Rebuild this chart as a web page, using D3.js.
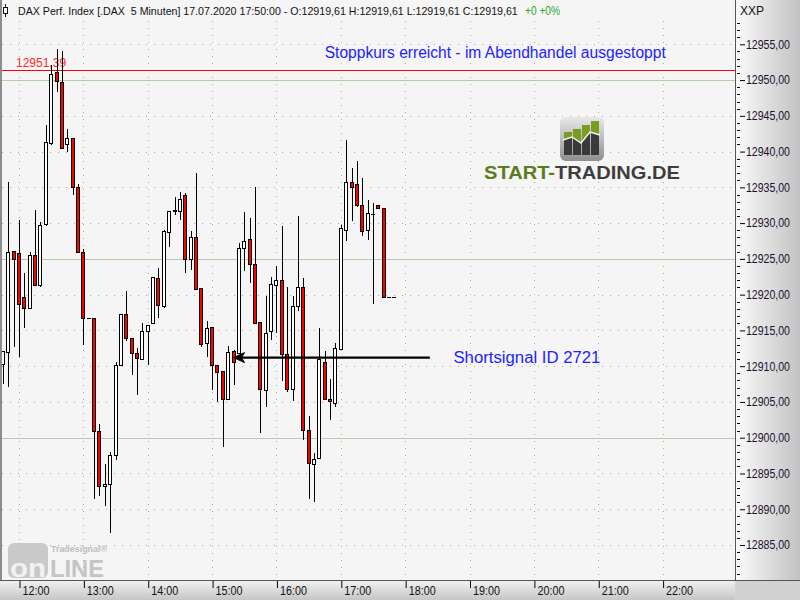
<!DOCTYPE html>
<html><head><meta charset="utf-8">
<script src="https://cdn.jsdelivr.net/npm/d3@7"></script>
<style>
body{margin:0;background:#fff}
svg{display:block;font-family:"Liberation Sans",Arial,sans-serif}
</style>
</head><body>
<svg id="c" width="800" height="600"></svg>
<script>
// ---------- data ----------
const firstBar = "2020-07-17 11:45";
const barMinutes = 5;
const opens  = [12910.3,12911.9,12926.0,12925.8,12919.6,12918.0,12925.5,12921.3,12929.8,12941.2,12951.0,12949.7,12941.0,12941.9,12935.0,12925.9,12916.7,12916.7,12900.9,12893.2,12893.5,12897.5,12910.1,12917.2,12913.8,12911.8,12911.0,12914.8,12915.9,12922.3,12918.3,12928.7,12931.6,12931.6,12933.9,12924.9,12928.0,12920.8,12913.2,12915.4,12910.1,12909.2,12905.4,12912.1,12911.8,12926.5,12927.7,12924.2,12916.1,12906.6,12914.8,12921.3,12922.0,12911.7,12906.7,12918.3,12921.0,12901.0,12896.2,12897.1,12910.5,12905.4,12904.8,12912.4,12929.0,12935.7,12935.4,12932.5,12929.0,12931.3,12932.4,12932.1,12919.61,12919.61];
const highs  = [12912.1,12935.8,12926.1,12930.5,12923.0,12925.9,12931.9,12930.1,12943.7,12952.1,12954.3,12954.0,12943.2,12941.9,12935.5,12926.4,12916.7,12916.7,12901.9,12896.3,12898.0,12910.6,12917.2,12920.5,12913.8,12912.5,12916.1,12915.7,12922.5,12923.7,12929.0,12931.6,12933.7,12934.4,12934.2,12928.9,12937.0,12920.8,12916.3,12915.4,12910.1,12909.2,12912.8,12912.3,12927.2,12931.6,12930.7,12935.1,12916.1,12919.8,12922.4,12924.0,12929.6,12921.0,12919.8,12931.0,12922.3,12903.0,12897.9,12915.3,12912.1,12908.2,12913.2,12929.7,12941.6,12937.7,12938.7,12936.3,12933.2,12932.8,12932.4,12932.1,12919.61,12919.61];
const lows   = [12907.5,12907.1,12912.7,12911.3,12915.4,12918.0,12921.3,12921.0,12929.6,12940.9,12948.4,12940.4,12940.0,12933.9,12925.9,12912.9,12916.7,12891.5,12891.8,12890.5,12886.7,12896.9,12910.1,12913.5,12908.8,12906.0,12910.8,12910.2,12915.9,12916.8,12918.1,12926.6,12931.1,12930.4,12923.0,12923.5,12920.7,12912.7,12911.3,12906.6,12905.0,12898.7,12905.3,12907.4,12911.8,12923.3,12921.6,12915.9,12900.6,12904.3,12913.7,12914.6,12907.9,12906.4,12905.1,12917.7,12899.7,12891.5,12891.0,12897.1,12905.4,12902.5,12904.3,12912.3,12927.5,12930.3,12932.2,12928.2,12927.6,12918.7,12932.1,12919.61,12919.61,12919.61];
const closes = [12912.0,12925.9,12924.9,12918.6,12918.0,12925.5,12921.3,12929.7,12941.3,12950.8,12949.8,12940.4,12941.9,12935.0,12925.9,12916.6,12916.7,12900.8,12893.2,12893.5,12897.5,12910.1,12917.2,12913.8,12911.8,12911.1,12914.8,12915.7,12922.4,12918.5,12928.8,12931.6,12931.7,12933.3,12924.9,12928.0,12920.7,12913.1,12915.2,12910.1,12909.1,12905.4,12911.9,12910.5,12926.5,12927.4,12924.2,12916.0,12906.7,12914.6,12921.35,12922.0,12911.7,12906.7,12918.4,12921.0,12901.0,12896.4,12896.9,12911.0,12905.4,12905.0,12912.5,12929.2,12935.7,12935.0,12932.4,12928.8,12931.4,12931.3,12932.1,12919.61,12919.61,12919.61];
const hourLabels = ["12:00","13:00","14:00","15:00","16:00","17:00","18:00","19:00","20:00","21:00","22:00"];
const greenHourLabels = ["17:00","22:00"];
const priceTicks = [12885,12890,12895,12900,12905,12910,12915,12920,12925,12930,12935,12940,12945,12950,12955];
const greenLevels = [12900,12925,12950];
const stopLevel = 12951.39;
const signalLevel = 12911.2;
const signalTip = "2020-07-17 15:20";
const signalTail = "2020-07-17 18:23";
const signalText = "Shortsignal ID 2721";
const signalTextTime = "2020-07-17 18:45";
const stopText = "Stoppkurs erreicht - im Abendhandel ausgestoppt";
const stopTextTime = "2020-07-17 16:45";
const stopTextLevel = 12953.1;
const titleText = "DAX Perf. Index [.DAX  5 Minuten] 17.07.2020 17:50:00";
const changeText = "+0 +0%";

// ---------- setup ----------
const W = 800, H = 600;
const plotL = 2, plotR = 735, plotT = 21, plotB = 580;
const parse = d3.timeParse("%Y-%m-%d %H:%M");
const day = "2020-07-17 ";
const t0 = parse(firstBar);
const bars = opens.map((o, i) => ({
  t: d3.timeMinute.offset(t0, i * barMinutes), o, h: highs[i], l: lows[i], c: closes[i]
}));
const x = d3.scaleTime().domain([parse(day + "12:00"), parse(day + "22:00")]).range([19, 662.6]);
const y = d3.scaleLinear().domain([12885, 12955]).range([545, 44.3]);
const fmt = v => d3.format(".2f")(v).replace(".", ",");

const svg = d3.select("#c");
const defs = svg.append("defs");
const g1 = defs.append("linearGradient").attr("id", "gr").attr("x1", 0).attr("x2", 1).attr("y1", 0).attr("y2", 0);
g1.append("stop").attr("offset", 0).attr("stop-color", "#fbfbfb");
g1.append("stop").attr("offset", 1).attr("stop-color", "#c2c2c2");
const g2 = defs.append("linearGradient").attr("id", "gb").attr("x1", 0).attr("x2", 0).attr("y1", 0).attr("y2", 1);
g2.append("stop").attr("offset", 0).attr("stop-color", "#f2f2f2");
g2.append("stop").attr("offset", 1).attr("stop-color", "#c6c6c6");
const g3 = defs.append("linearGradient").attr("id", "gi").attr("x1", 0).attr("x2", 0).attr("y1", 0).attr("y2", 1);
g3.append("stop").attr("offset", 0).attr("stop-color", "#e8e8e8");
g3.append("stop").attr("offset", 1).attr("stop-color", "#8e8e8e");
defs.append("clipPath").attr("id", "clip").append("rect")
  .attr("x", plotL).attr("y", plotT).attr("width", plotR - plotL).attr("height", plotB - plotT);

// backgrounds
svg.append("rect").attr("width", W).attr("height", H).attr("fill", "#f5f5f5");
svg.append("rect").attr("x", plotR).attr("y", 0).attr("width", W - plotR).attr("height", plotB).attr("fill", "url(#gr)");
svg.append("rect").attr("x", 0).attr("y", plotB).attr("width", plotR).attr("height", H - plotB).attr("fill", "url(#gb)");
svg.append("rect").attr("x", plotR).attr("y", plotB).attr("width", W - plotR).attr("height", H - plotB).attr("fill", "#d2d2d2");
svg.append("rect").attr("x", 0).attr("y", 0).attr("width", 2).attr("height", plotB).attr("fill", "#8c8c8c");

const plot = svg.append("g").attr("clip-path", "url(#clip)");

// grid
const px = v => Math.round(v) + 0.5;
plot.selectAll(".hg").data(priceTicks.filter(v => !greenLevels.includes(v))).join("line")
  .attr("x1", plotL).attr("x2", plotR).attr("y1", d => px(y(d))).attr("y2", d => px(y(d)))
  .attr("stroke", "#a8a8a8").attr("stroke-dasharray", "1,7");
plot.selectAll(".vg").data(hourLabels).join("line")
  .attr("x1", d => px(x(parse(day + d)))).attr("x2", d => px(x(parse(day + d))))
  .attr("y1", plotT).attr("y2", plotB)
  .attr("stroke", d => greenHourLabels.includes(d) ? "#8fbf86" : "#a8a8a8").attr("stroke-dasharray", "1,6");
plot.selectAll(".gg").data(greenLevels).join("line")
  .attr("x1", plotL).attr("x2", plotR).attr("y1", d => px(y(d))).attr("y2", d => px(y(d)))
  .attr("stroke", "#b1cdaa").attr("stroke-width", 1);

// stop line
plot.append("line").attr("x1", plotL).attr("x2", plotR)
  .attr("y1", px(y(stopLevel))).attr("y2", px(y(stopLevel))).attr("stroke", "#ff0000").attr("stroke-width", 1.2);
plot.append("text").attr("x", 16).attr("y", y(stopLevel) - 3.5).attr("font-size", 12).attr("fill", "#ff2a2a")
  .text(fmt(stopLevel));

// candles
const cg = plot.append("g").attr("shape-rendering", "crispEdges");
bars.forEach(b => {
  const r = Math.round(x(b.t));
  const cx = r + 0.5;
  if (b.h !== b.l) {
    cg.append("line").attr("x1", cx).attr("x2", cx).attr("y1", y(b.h)).attr("y2", y(b.l))
      .attr("stroke", "#000").attr("stroke-width", 1);
  }
  if (b.o === b.c) {
    cg.append("line").attr("x1", r - 2).attr("x2", r + 2).attr("y1", px(y(b.o))).attr("y2", px(y(b.o)))
      .attr("stroke", "#000").attr("stroke-width", 1.4);
  } else {
    const top = y(Math.max(b.o, b.c)), bot = y(Math.min(b.o, b.c));
    cg.append("rect").attr("x", r - 1.5).attr("y", top).attr("width", 3).attr("height", Math.max(bot - top, 1))
      .attr("fill", b.c > b.o ? "#ffffff" : "#ff0000").attr("stroke", "#000").attr("stroke-width", 1);
  }
});

// signal arrow
const ay = y(signalLevel);
const tipX = x(parse(signalTip)), tailX = x(parse(signalTail));
plot.append("line").attr("x1", tipX + 6).attr("x2", tailX).attr("y1", ay).attr("y2", ay)
  .attr("stroke", "#000").attr("stroke-width", 2.4);
plot.append("path")
  .attr("d", `M${tipX},${ay} L${tipX + 11},${ay - 5} L${tipX + 8},${ay} L${tipX + 11},${ay + 5} Z`)
  .attr("fill", "#000").attr("stroke", "#000").attr("stroke-width", 1);
svg.append("text").attr("x", x(parse(signalTextTime))).attr("y", ay + 5.5)
  .attr("font-size", 16).attr("fill", "#1e1eff")
  .attr("textLength", 147).attr("lengthAdjust", "spacingAndGlyphs").text(signalText);
svg.append("text").attr("x", x(parse(stopTextTime))).attr("y", y(stopTextLevel))
  .attr("font-size", 16).attr("fill", "#1e1eff")
  .attr("textLength", 341).attr("lengthAdjust", "spacingAndGlyphs").text(stopText);

// START-TRADING logo
const logo = svg.append("g");
logo.append("rect").attr("x", 560).attr("y", 117).attr("width", 44).attr("height", 44).attr("rx", 6)
  .attr("fill", "url(#gi)");
const barsX = [564, 573, 582, 591], barsTop = [132, 129, 125, 121];
const zigX = [563, 572, 581, 590, 600], zigY = [140, 137, 143, 132, 135];
const cp = defs.append("clipPath").attr("id", "zc");
barsX.forEach((bx, i) => {
  logo.append("rect").attr("x", bx).attr("y", barsTop[i]).attr("width", 8).attr("height", 155 - barsTop[i]).attr("fill", "#7a9c22");
  cp.append("rect").attr("x", bx).attr("y", barsTop[i]).attr("width", 8).attr("height", 155 - barsTop[i]);
});
const zigPts = zigX.map((zx, i) => `${zx},${zigY[i]}`);
logo.append("path").attr("d", `M${zigPts.join(" L")} L600,156 L563,156 Z`)
  .attr("fill", "#3a3a3a").attr("clip-path", "url(#zc)");
logo.append("polyline").attr("points", zigPts.join(" "))
  .attr("fill", "none").attr("stroke", "#f4f4f4").attr("stroke-width", 1.5);
const lt = logo.append("text").attr("x", 484).attr("y", 179).attr("font-size", 19).attr("font-weight", "bold")
  .attr("textLength", 196).attr("lengthAdjust", "spacingAndGlyphs");
lt.append("tspan").attr("fill", "#5b7d1c").text("START-");
lt.append("tspan").attr("fill", "#3d3d3d").text("TRADING.DE");

// Tradesignal online watermark
const wm = svg.append("g");
wm.append("rect").attr("x", 8).attr("y", 543).attr("width", 40).attr("height", 35).attr("rx", 6).attr("fill", "#c9c9c9");
wm.append("text").attr("x", 10).attr("y", 577).attr("font-size", 26).attr("font-weight", "bold")
  .attr("fill", "#f2f2f2").attr("textLength", 36).attr("lengthAdjust", "spacingAndGlyphs").text("on");
wm.append("text").attr("x", 50).attr("y", 577).attr("font-size", 24).attr("font-weight", "bold")
  .attr("fill", "#c4c4c4").attr("textLength", 54).attr("lengthAdjust", "spacingAndGlyphs").text("LINE");
wm.append("text").attr("x", 51).attr("y", 552).attr("font-size", 8.5).attr("font-weight", "bold")
  .attr("fill", "#bdbdbd").attr("textLength", 56).attr("lengthAdjust", "spacingAndGlyphs").text("Tradesignal\u00AE");

// right axis
const yAxis = d3.axisRight(y).tickValues(priceTicks).tickSize(5).tickPadding(1).tickFormat(fmt);
const ya = svg.append("g").attr("transform", `translate(${plotR + 5},0)`).call(yAxis);
ya.select(".domain").remove();
ya.selectAll("text").attr("font-size", 12).attr("fill", "#1a1030")
  .attr("textLength", 44).attr("lengthAdjust", "spacingAndGlyphs")
  .attr("font-family", "'Liberation Sans',Arial,sans-serif");
ya.selectAll("line").attr("stroke", "#000");
const minor = d3.range(12881, 12959).filter(v => v % 5 !== 0);
svg.append("g").attr("shape-rendering", "crispEdges").selectAll("line").data(minor).join("line")
  .attr("x1", plotR + 2).attr("x2", plotR + 5).attr("y1", d => px(y(d))).attr("y2", d => px(y(d)))
  .attr("stroke", "#000");
svg.append("line").attr("x1", plotR + 0.5).attr("x2", plotR + 0.5).attr("y1", 0).attr("y2", plotB)
  .attr("stroke", "#555");
svg.append("text").attr("x", 740).attr("y", 15).attr("font-size", 12).attr("fill", "#111").text("XXP");

// bottom axis
const xAxis = d3.axisBottom(x).tickValues(hourLabels.map(h => parse(day + h)))
  .tickSize(7).tickFormat(d3.timeFormat("%H:%M"));
const xa = svg.append("g").attr("transform", `translate(0,${plotB + 1})`).call(xAxis);
xa.select(".domain").remove();
xa.selectAll("line").attr("stroke", "#000").attr("transform", "translate(0.5,0)");
xa.selectAll("text").attr("text-anchor", "start").attr("x", 3).attr("y", 5).attr("dy", "0.71em")
  .attr("font-size", 12).attr("fill", "#111").attr("textLength", 27).attr("lengthAdjust", "spacingAndGlyphs")
  .attr("font-family", "'Liberation Sans',Arial,sans-serif");
svg.append("line").attr("x1", 0).attr("x2", W).attr("y1", plotB + 0.5).attr("y2", plotB + 0.5).attr("stroke", "#555");

// header
const last = bars[bars.length - 1];
const hdr = svg.append("text").attr("x", 18).attr("y", 15).attr("font-size", 12).attr("fill", "#111")
  .style("white-space", "pre")
  .text(`${titleText} - O:${fmt(last.o)} H:${fmt(last.h)} L:${fmt(last.l)} C:${fmt(last.c)}`);
const natural = hdr.node().getComputedTextLength();
if (natural > 0) hdr.attr("font-size", (12 * 500 / natural).toFixed(2));
svg.append("text").attr("x", 525).attr("y", 15).attr("font-size", 12).attr("fill", "#22aa22")
  .attr("textLength", 35).attr("lengthAdjust", "spacingAndGlyphs").text(changeText);
svg.append("line").attr("x1", 5.5).attr("x2", 5.5).attr("y1", 4).attr("y2", 17).attr("stroke", "#111");
svg.append("rect").attr("x", 3.5).attr("y", 7.5).attr("width", 4).attr("height", 6).attr("fill", "#fff").attr("stroke", "#111");
</script>
</body></html>
